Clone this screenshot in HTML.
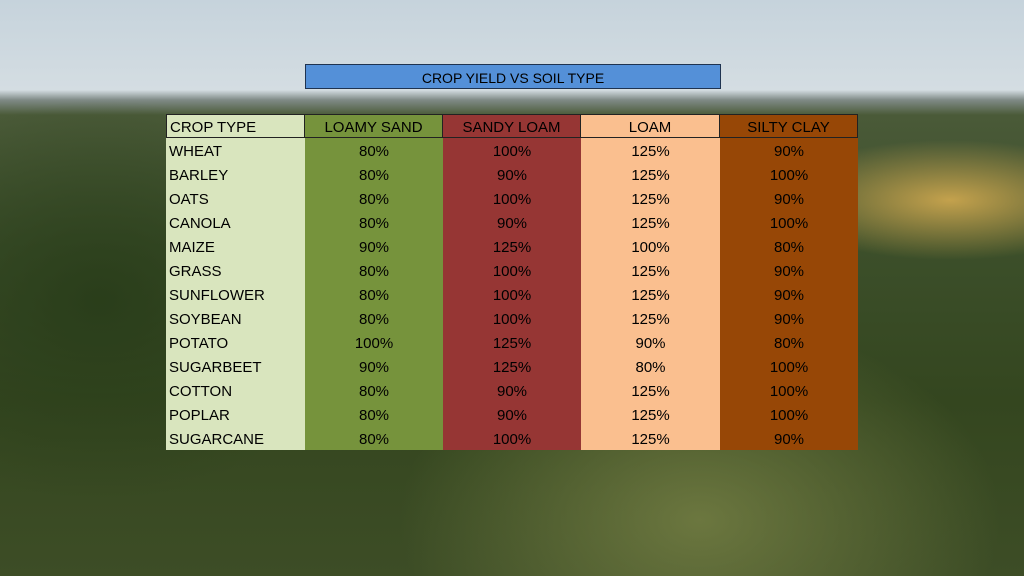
<!DOCTYPE html>
<html><head><meta charset="utf-8"><style>
html,body{margin:0;padding:0;width:1024px;height:576px;overflow:hidden}
body{position:relative;font-family:"Liberation Sans",sans-serif;
background:
radial-gradient(ellipse 180px 60px at 950px 200px, rgba(210,170,80,0.9), rgba(210,170,80,0) 100%),
radial-gradient(ellipse 300px 200px at 700px 520px, rgba(120,130,70,0.8), rgba(120,130,70,0) 100%),
radial-gradient(ellipse 250px 200px at 100px 300px, rgba(40,60,25,0.9), rgba(40,60,25,0) 100%),
linear-gradient(to bottom,#c6d3dc 0px,#d4dde2 90px,#7f8a86 100px,#4a5a38 115px,#3c4f2a 250px,#34461f 400px,#3d4d26 576px);}
.title{position:absolute;left:305px;top:64px;width:414px;height:23px;background:#5490d8;border:1px solid #1f3350;
text-align:center;font-size:14px;line-height:26px;color:#000}
.c{position:absolute;box-sizing:border-box;height:24px;line-height:27px;overflow:hidden;text-align:center;font-size:15px;color:#000}
.c0{left:166px;width:139px;text-align:left;padding-left:3px;background:#d9e5be}
.c1{left:305px;width:138px;background:#76933c}
.c2{left:443px;width:138px;background:#963634}
.c3{left:581px;width:139px;background:#fabf8f}
.c4{left:720px;width:138px;background:#974706}
.h{border:1px solid #222;border-left:none;line-height:25px}
.h.c0{border-left:1px solid #222}
</style></head><body>
<div class="title">CROP YIELD VS SOIL TYPE</div>
<div id="t"></div>
<script>
var rows=[["CROP TYPE","LOAMY SAND","SANDY LOAM","LOAM","SILTY CLAY"],
["WHEAT","80%","100%","125%","90%"],["BARLEY","80%","90%","125%","100%"],["OATS","80%","100%","125%","90%"],
["CANOLA","80%","90%","125%","100%"],["MAIZE","90%","125%","100%","80%"],["GRASS","80%","100%","125%","90%"],
["SUNFLOWER","80%","100%","125%","90%"],["SOYBEAN","80%","100%","125%","90%"],["POTATO","100%","125%","90%","80%"],
["SUGARBEET","90%","125%","80%","100%"],["COTTON","80%","90%","125%","100%"],["POPLAR","80%","90%","125%","100%"],
["SUGARCANE","80%","100%","125%","90%"]];
var h="";
rows.forEach(function(r,i){r.forEach(function(v,j){h+='<div class="c c'+j+(i==0?' h':'')+'" style="top:'+(114+24*i)+'px">'+v+'</div>';});});
document.getElementById("t").innerHTML=h;
</script>
</body></html>
